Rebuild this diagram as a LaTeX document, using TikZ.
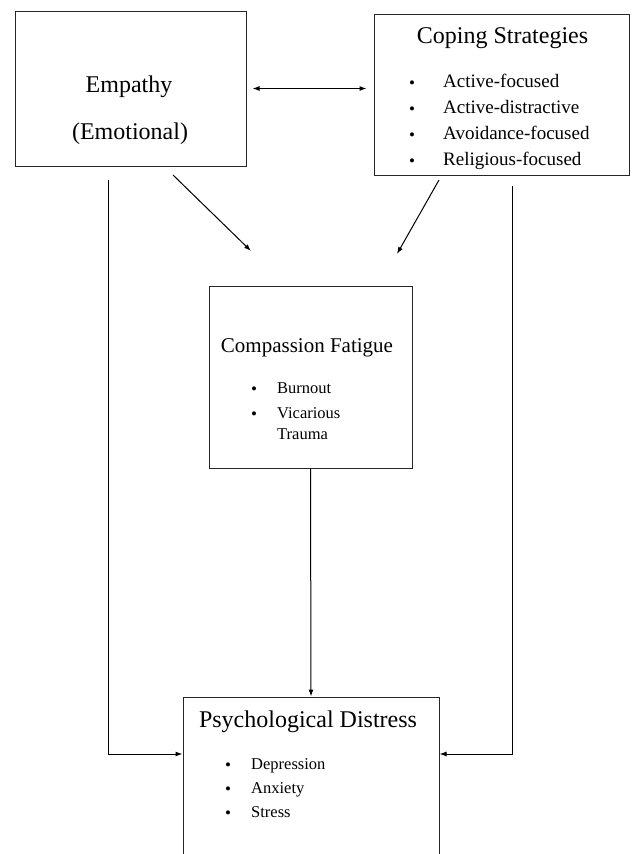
\documentclass[tikz,border=0pt]{standalone}
\usepackage{fontspec}
\setmainfont{Liberation Serif}
\usetikzlibrary{arrows.meta}
\tikzstyle{box}=[draw=black!85, line width=1pt, inner sep=0pt]
\tikzstyle{link}=[black, line width=1pt, -{Latex[length=7pt, width=5pt]}]
\tikzstyle{bigtext}=[inner sep=0pt, anchor=base, font=\fontsize{24}{28}\selectfont]
\tikzstyle{midtext}=[inner sep=0pt, anchor=base, font=\fontsize{21}{25}\selectfont]
\tikzstyle{item}=[inner sep=0pt, anchor=base west, font=\fontsize{19}{22}\selectfont]
\tikzstyle{smallitem}=[inner sep=0pt, anchor=base west, font=\fontsize{16.5}{20}\selectfont]
\tikzstyle{dot}=[inner sep=0pt, anchor=base, font=\fontsize{17}{20}\selectfont]

\begin{document}
\begin{tikzpicture}[x=1pt, y=-1pt]
    \clip (0,0) rectangle (633,854);
% Boxes
    \node[box, minimum width=231pt, minimum height=155pt] (emp) at (130.5,88.5) {};
    \node[box, minimum width=255pt, minimum height=161pt] (cope) at (501.5,94.5) {};
    \node[box, minimum width=203pt, minimum height=182pt] (comp) at (310.5,377) {};
    \node[box, minimum width=256pt, minimum height=183pt] (dist) at (311,788.5) {};
% Empathy
    \node[bigtext] (emptitle) at (129,92) {Empathy};
    \node[bigtext] (empsub) at (130,139) {(Emotional)};
% Coping strategies
    \node[bigtext] (copetitle) at (502.5,43) {Coping Strategies};
    \node[dot] (copedota) at (412,88) {\textbullet};
    \node[dot] (copedotb) at (412,114) {\textbullet};
    \node[dot] (copedotc) at (412,140) {\textbullet};
    \node[dot] (copedotd) at (412,166) {\textbullet};
    \node[item] (copea) at (443,87) {Active-focused};
    \node[item] (copeb) at (443,113) {Active-distractive};
    \node[item] (copec) at (443,139) {Avoidance-focused};
    \node[item] (coped) at (443,165) {Religious-focused};
% Compassion fatigue
    \node[midtext] (comptitle) at (307,352) {Compassion Fatigue};
    \node[dot] (compdota) at (254,394) {\textbullet};
    \node[dot] (compdotb) at (254,419) {\textbullet};
    \node[smallitem] (compa) at (277,393) {Burnout};
    \node[smallitem] (compb) at (277,418) {Vicarious};
    \node[smallitem] (compc) at (277,439) {Trauma};
% Psychological distress
    \node[bigtext] (disttitle) at (308,727) {Psychological Distress};
    \node[dot] (distdota) at (228,770) {\textbullet};
    \node[dot] (distdotb) at (228,794) {\textbullet};
    \node[dot] (distdotc) at (228,818) {\textbullet};
    \node[smallitem] (dista) at (251,769) {Depression};
    \node[smallitem] (distb) at (251,793) {Anxiety};
    \node[smallitem] (distc) at (251,817) {Stress};
% Free ends of the links
    \coordinate (empout) at (173,175);
    \coordinate (compinl) at (251,251);
    \coordinate (copeout) at (439,180);
    \coordinate (compinr) at (397,254);
    \coordinate (empleft) at (108,180);
    \coordinate (coperight) at (512.5,186);
    \coordinate (sidelevel) at (0,754);
% Links
    \draw[link, {Latex[length=7pt, width=5pt]}-{Latex[length=7pt, width=5pt]}, shorten <=6pt, shorten >=7pt] (emp.east) -- (cope.west |- emp.east);
    \draw[link] (empout) -- (compinl);
    \draw[link] (copeout) -- (compinr);
    \draw[link] (comp.south) -- (dist.north);
    \draw[link] (empleft) |- (dist.west |- sidelevel);
    \draw[link] (coperight) |- (dist.east |- sidelevel);
\end{tikzpicture}
\end{document}
